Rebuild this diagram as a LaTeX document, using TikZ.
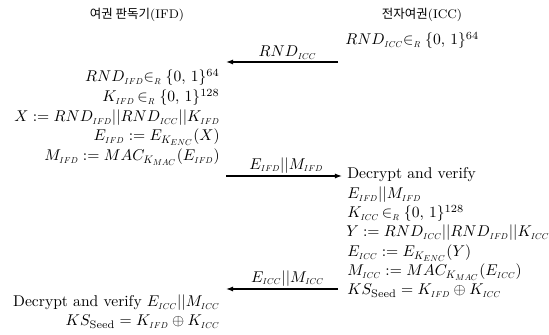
\documentclass[tikz,border=0pt]{standalone}
\usepackage{fontspec}
\newfontfamily\krfont{Noto Sans CJK KR}
\usetikzlibrary{arrows.meta}
% math italic scaled from the 10pt design at every size (narrow subscripts)
\DeclareFontShape{OML}{cmm}{m}{it}{<-> cmmi10}{}
\DeclareMathSizes{10}{10}{7}{5.5}
% small subscripts for party names
\newcommand\lo[1]{_{\scriptscriptstyle #1}}
\newcommand\inR{{\in}\lo{R}\;}
\newcommand\bits{\{0,\,1\}}
\newcommand\seed{_{\mathrm{Seed}}}
\begin{document}
\begin{tikzpicture}[x=0.641pt,y=-0.641pt,
  msg/.style={-{Latex[length=4.5pt,width=3.2pt]}, line width=0.8pt},
  lbl/.style={above, inner sep=1.5pt},
  lline/.style={anchor=base east, inner sep=0pt},
  rline/.style={anchor=base west, inner sep=0pt},
  head/.style={font=\footnotesize, inner sep=0pt}]
\useasboundingbox (0,0) rectangle (549,335);

% party headings
\node[head] (ifd) at (137,15) {{\krfont 여권 판독기}(IFD)};
\node[head] (icc) at (422,15) {{\krfont 전자여권}(ICC)};

% chip: first random value
\node[rline] (c0) at (345,45) {$RND\lo{ICC}\inR\bits^{64}$};

% reader computations
\node[lline] (r1) at (220,82)  {$RND\lo{IFD}\inR\bits^{64}$};
\node[lline] (r2) at (220,102) {$K\lo{IFD}\,\inR\bits^{128}$};
\node[lline] (r3) at (220,122) {$X := RND\lo{IFD}||RND\lo{ICC}||K\lo{IFD}$};
\node[lline] (r4) at (220,141) {$E\lo{IFD} := E_{K_{ENC}}(X)$};
\node[lline] (r5) at (220,161) {$M\lo{IFD} := MAC_{K_{MAC}}(E\lo{IFD})$};

% chip computations
\node[rline] (c1) at (347,179) {Decrypt and verify};
\node[rline] (c2) at (347,199) {$E\lo{IFD}||M\lo{IFD}$};
\node[rline] (c3) at (347,218) {$K\lo{ICC}\,\inR\bits^{128}$};
\node[rline] (c4) at (346,237) {$Y := RND\lo{ICC}||RND\lo{IFD}||K\lo{ICC}$};
\node[rline] (c5) at (347,257) {$E\lo{ICC} := E_{K_{ENC}}(Y)$};
\node[rline] (c6) at (347,276) {$M\lo{ICC} := MAC_{K_{MAC}}(E\lo{ICC})$};
\node[rline] (c7) at (347,295) {$KS\seed = K\lo{IFD} \oplus K\lo{ICC}$};

% reader final step
\node[lline] (r6) at (220,307) {Decrypt and verify $E\lo{ICC}||M\lo{ICC}$};
\node[lline] (r7) at (220,326) {$KS\seed = K\lo{IFD} \oplus K\lo{ICC}$};

% message ends
\coordinate (m1a) at (338,62);  \coordinate (m1b) at (226,62);
\coordinate (m2a) at (226,176); \coordinate (m2b) at (342,176);
\coordinate (m3a) at (338,289); \coordinate (m3b) at (226,289);

\draw[msg] (m1a) -- node[lbl, pos=0.45] {$RND\lo{ICC}$} (m1b);
\draw[msg] (m2a) -- node[lbl, pos=0.52] {$E\lo{IFD}||M\lo{IFD}$} (m2b);
\draw[msg] (m3a) -- node[lbl, pos=0.45] {$E\lo{ICC}||M\lo{ICC}$} (m3b);
\end{tikzpicture}
\end{document}
